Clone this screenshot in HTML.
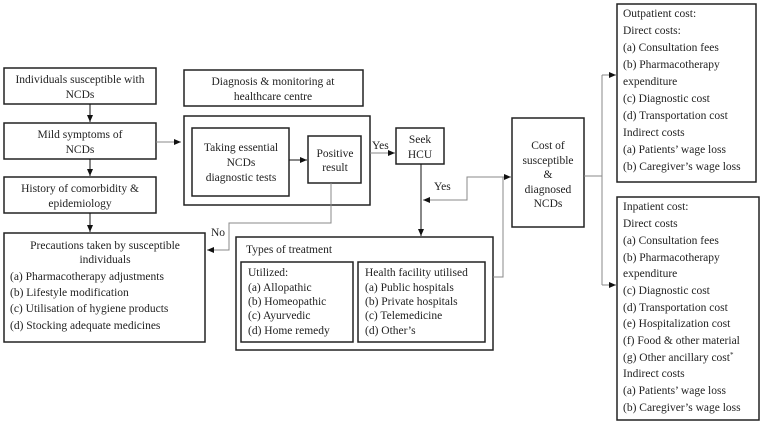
<!DOCTYPE html>
<html><head><meta charset="utf-8"><style>
html,body{margin:0;padding:0;background:#fff;}
svg text{font-family:"Liberation Serif","DejaVu Serif",serif;font-size:11.5px;fill:#222;}
</style></head><body>
<svg width="772" height="424" viewBox="0 0 772 424" xmlns="http://www.w3.org/2000/svg" font-family="Liberation Serif, DejaVu Serif, serif">
<defs>
<marker id="a" markerWidth="8" markerHeight="8" refX="7" refY="4" orient="auto" markerUnits="userSpaceOnUse"><path d="M0,1 L7,4 L0,7 Z" fill="#111"/></marker>
</defs>
<g fill="none" stroke="#222" stroke-width="1.5">
<rect x="4" y="68" width="152" height="36"/>
<rect x="4" y="123" width="152" height="36"/>
<rect x="4" y="177" width="152" height="36"/>
<rect x="4" y="233" width="201" height="109"/>
<rect x="184" y="70" width="179" height="36"/>
<rect x="184" y="116" width="186" height="89"/>
<rect x="192" y="128" width="97" height="68"/>
<rect x="308" y="136" width="53" height="47"/>
<rect x="396" y="128" width="48" height="36"/>
<rect x="236" y="237" width="257" height="113"/>
<rect x="241" y="262" width="112" height="80"/>
<rect x="358" y="262" width="127" height="80"/>
<rect x="512" y="118" width="72" height="109"/>
<rect x="617" y="4" width="139" height="178"/>
<rect x="617" y="197" width="142" height="223"/>
</g>
<g fill="none" stroke="#111" stroke-width="1">
<line x1="90" y1="104" x2="90" y2="122" marker-end="url(#a)"/>
<line x1="90" y1="159" x2="90" y2="176" marker-end="url(#a)"/>
<line x1="90" y1="213" x2="90" y2="232" marker-end="url(#a)"/>
<line x1="289" y1="160" x2="307" y2="160" marker-end="url(#a)"/>
<line x1="421" y1="164" x2="421" y2="236" marker-end="url(#a)"/>
</g>
<g fill="none" stroke="#888" stroke-width="1">
<line x1="156" y1="142" x2="181" y2="142" marker-end="url(#a)"/>
<line x1="370" y1="153" x2="395" y2="153" marker-end="url(#a)"/>
<polyline points="331,183 331,223 229,223 229,250 207,250" marker-end="url(#a)"/>
<polyline points="503,177 467,177 467,200 423,200" marker-end="url(#a)"/>
<polyline points="493,277 503,277 503,177 511,177" marker-end="url(#a)"/>
<polyline points="584,176 602,176"/>
<polyline points="602,75 602,285"/>
<line x1="602" y1="75" x2="616" y2="75" marker-end="url(#a)"/>
<line x1="602" y1="285" x2="616" y2="285" marker-end="url(#a)"/>
</g>
<g text-anchor="middle">
<text x="80" y="83">Individuals susceptible with</text><text x="80" y="98">NCDs</text>
<text x="80" y="138">Mild symptoms of</text><text x="80" y="153">NCDs</text>
<text x="80" y="192">History of comorbidity &amp;</text><text x="80" y="207">epidemiology</text>
<text x="273" y="85">Diagnosis &amp; monitoring at</text><text x="273" y="100">healthcare centre</text>
<text x="241" y="151">Taking essential</text><text x="241" y="166">NCDs</text><text x="241" y="181">diagnostic tests</text>
<text x="335" y="157">Positive</text><text x="335" y="171">result</text>
<text x="420" y="143">Seek</text><text x="420" y="158">HCU</text>
<text x="548" y="149">Cost of</text><text x="548" y="164">susceptible</text><text x="548" y="178">&amp;</text><text x="548" y="193">diagnosed</text><text x="548" y="207">NCDs</text>
<text x="105" y="249">Precautions taken by susceptible</text><text x="105" y="263">individuals</text>
</g>
<text x="372" y="149">Yes</text>
<text x="434" y="190">Yes</text>
<text x="211" y="236">No</text>
<text x="10" y="280">(a) Pharmacotherapy adjustments</text>
<text x="10" y="296">(b) Lifestyle modification</text>
<text x="10" y="312">(c) Utilisation of hygiene products</text>
<text x="10" y="329">(d) Stocking adequate medicines</text>
<text x="246" y="253">Types of treatment</text>
<text x="248" y="276">Utilized:</text>
<text x="248" y="291">(a) Allopathic</text>
<text x="248" y="305">(b) Homeopathic</text>
<text x="248" y="319">(c) Ayurvedic</text>
<text x="248" y="334">(d) Home remedy</text>
<text x="365" y="276">Health facility utilised</text>
<text x="365" y="291">(a) Public hospitals</text>
<text x="365" y="305">(b) Private hospitals</text>
<text x="365" y="319">(c) Telemedicine</text>
<text x="365" y="334">(d) Other’s</text>
<g>
<text x="623" y="17">Outpatient cost:</text>
<text x="623" y="34">Direct costs:</text>
<text x="623" y="51">(a) Consultation fees</text>
<text x="623" y="68">(b) Pharmacotherapy</text>
<text x="623" y="85">expenditure</text>
<text x="623" y="102">(c) Diagnostic cost</text>
<text x="623" y="119">(d) Transportation cost</text>
<text x="623" y="136">Indirect costs</text>
<text x="623" y="153">(a) Patients’ wage loss</text>
<text x="623" y="170">(b) Caregiver’s wage loss</text>
</g>
<g>
<text x="623" y="210">Inpatient cost:</text>
<text x="623" y="227">Direct costs</text>
<text x="623" y="244">(a) Consultation fees</text>
<text x="623" y="261">(b) Pharmacotherapy</text>
<text x="623" y="277">expenditure</text>
<text x="623" y="294">(c) Diagnostic cost</text>
<text x="623" y="311">(d) Transportation cost</text>
<text x="623" y="327">(e) Hospitalization cost</text>
<text x="623" y="344">(f) Food &amp; other material</text>
<text x="623" y="361">(g) Other ancillary cost<tspan dy="-4" style="font-size:7px">*</tspan></text>
<text x="623" y="377">Indirect costs</text>
<text x="623" y="394">(a) Patients’ wage loss</text>
<text x="623" y="411">(b) Caregiver’s wage loss</text>
</g>
</svg>
</body></html>
